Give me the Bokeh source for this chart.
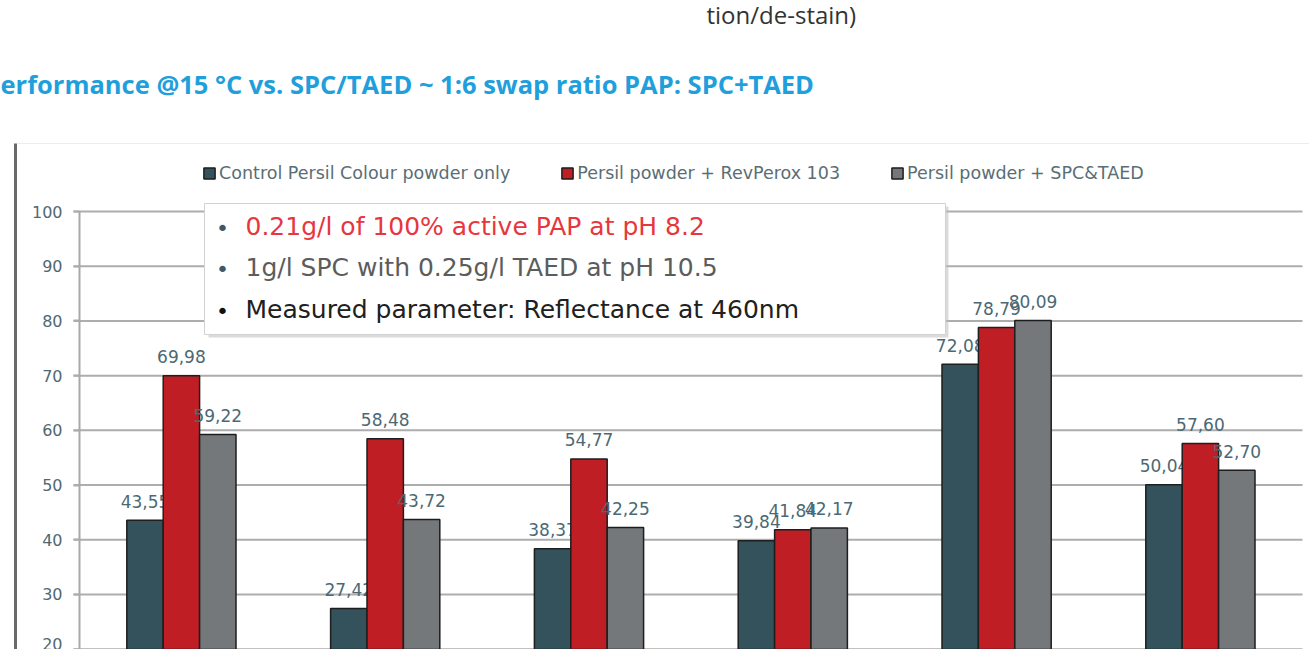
from bokeh.plotting import figure
from bokeh.models import (Range1d, LinearAxis, FixedTicker, ColumnDataSource,
                          Legend, LegendItem)
from bokeh.core.properties import value
from bokeh.embed import file_html
from bokeh.resources import INLINE

# ---------------- data ----------------
groups = ["Stain 1", "Stain 2", "Stain 3", "Stain 4", "Stain 5", "Stain 6"]
series_names = ["Control Persil Colour powder only",
                "Persil powder + RevPerox 103",
                "Persil powder + SPC&TAED"]
control = [43.55, 27.42, 38.37, 39.84, 72.08, 50.04]
revperox = [69.98, 58.48, 54.77, 41.84, 78.79, 57.60]
spc_taed = [59.22, 43.72, 42.25, 42.17, 80.09, 52.70]
y_ticks = [20, 30, 40, 50, 60, 70, 80, 90, 100]

top_text = "tion/de-stain)"
title_text = "erformance @15 °C vs. SPC/TAED ~ 1:6 swap ratio PAP: SPC+TAED"
note_lines = ["0.21g/l of 100% active PAP at pH 8.2",
              "1g/l SPC with 0.25g/l TAED at pH 10.5",
              "Measured parameter:  Reflectance at 460nm"]

# ---------------- style ----------------
series_colors = ["#34525b", "#c01e25", "#75787b"]
note_colors = ["#e8363d", "#5c5c5c", "#202020"]
bullet_colors = ["#3d5a66", "#3d5a66", "#111111"]
label_color = "#4b6974"
FONT = "DejaVu Sans"

W, H = 1309, 649
# reference pixel -> data helpers (for decorations only)
X0, PXX = 79.0, 203.8
Y100, PXY = 211.0, 5.471


def dx(px):
    return (px - X0) / PXX


def dy(py):
    return 100.0 - (py - Y100) / PXY


p = figure(width=W, height=H, output_backend="svg", toolbar_location=None,
           x_range=Range1d(dx(0), dx(W)), y_range=Range1d(dy(H), dy(0)),
           x_axis_location=None, y_axis_location=None, min_border=0,
           title=None)
p.outline_line_color = None
p.grid.visible = False
p.background_fill_color = "white"
p.border_fill_color = "white"

# panel frame lines
p.segment(x0=[dx(15)], y0=[dy(143)], x1=[dx(15)], y1=[dy(700)],
          line_color="#6a6a6a", line_width=3)
p.segment(x0=[dx(17)], y0=[dy(143)], x1=[dx(1320)], y1=[dy(143)],
          line_color="#ececec", line_width=1)

# grid lines
n = len(y_ticks)
p.segment(x0=[dx(73)] * n, y0=y_ticks, x1=[dx(1302)] * n, y1=y_ticks,
          line_color="#adadad", line_width=2)
# axis line
p.segment(x0=[0], y0=[min(y_ticks) - 10], x1=[0], y1=[max(y_ticks)],
          line_color="#a8a8a8", line_width=2)

yaxis = LinearAxis(fixed_location=0, ticker=FixedTicker(ticks=y_ticks))
yaxis.axis_line_color = None
yaxis.major_tick_out = 6
yaxis.major_tick_in = 0
yaxis.minor_tick_line_color = None
yaxis.major_tick_line_color = "#adadad"
yaxis.major_tick_line_width = 2
yaxis.major_label_standoff = 11
yaxis.major_label_text_font = FONT
yaxis.major_label_text_font_size = "16px"
yaxis.major_label_text_color = "#4f6872"
p.add_layout(yaxis, "left")

# bars
bw = 36.4 / PXX
centers = [i + 0.5 for i in range(len(groups))]
renderers = []
for k, (vals, col) in enumerate(zip([control, revperox, spc_taed], series_colors)):
    xs = [c + (k - 1) * bw for c in centers]
    src = ColumnDataSource(dict(x=xs, top=vals,
                                lab=[f"{v:.2f}".replace(".", ",") for v in vals]))
    r = p.vbar(x="x", top="top", bottom=0, width=bw, source=src,
               fill_color=col, line_color="#1e1e1e", line_width=1.5)
    renderers.append(r)
    p.text(x="x", y="top", text="lab", source=src, text_align="center",
           text_baseline="alphabetic", y_offset=-19,
           text_font=value(FONT), text_font_size="17px", text_color=label_color)

# note box
p.quad(left=[dx(208)], right=[dx(948)], top=[dy(206)], bottom=[dy(337)],
       fill_color="#bdbdbd", fill_alpha=0.55, line_color=None)
p.quad(left=[dx(204)], right=[dx(945)], top=[dy(203)], bottom=[dy(334)],
       fill_color="white", line_color="#d2d2d2", line_width=1)
baselines = [226, 267, 309]
bullet_y = [228, 269, 311]
p.text(x=[dx(222)] * 3, y=[dy(b) for b in bullet_y], text=["•"] * 3,
       text_align="center", text_baseline="middle",
       text_font=value(FONT), text_font_size="22px", text_color=bullet_colors)
p.text(x=[dx(245)] * 3, y=[dy(b) for b in baselines], text=note_lines,
       text_align="left", text_baseline="alphabetic",
       text_font=value(FONT), text_font_size="25px", text_color=note_colors)

# page texts
p.text(x=[dx(706)], y=[dy(14)], text=[top_text], text_baseline="alphabetic",
       text_font=value("Open Sans"), text_font_size="24px", text_color="#333333")
p.text(x=[dx(0)], y=[dy(83)], text=[title_text], text_baseline="alphabetic",
       text_font=value("Open Sans"), text_font_style="bold",
       text_font_size="25.5px", text_color="#1f9fdb")

# legend
legend = Legend(items=[LegendItem(label=nm, renderers=[r])
                       for nm, r in zip(series_names, renderers)],
                orientation="horizontal", location=(202, 466))
legend.padding = 0
legend.margin = 0
legend.spacing = 50
legend.glyph_width = 14
legend.glyph_height = 14
legend.label_standoff = 3
legend.label_text_font = FONT
legend.label_text_font_size = "17.5px"
legend.label_text_color = "#596e75"
legend.border_line_color = None
legend.background_fill_alpha = 0
p.add_layout(legend)

open("out.html", "w").write(file_html(p, INLINE))
